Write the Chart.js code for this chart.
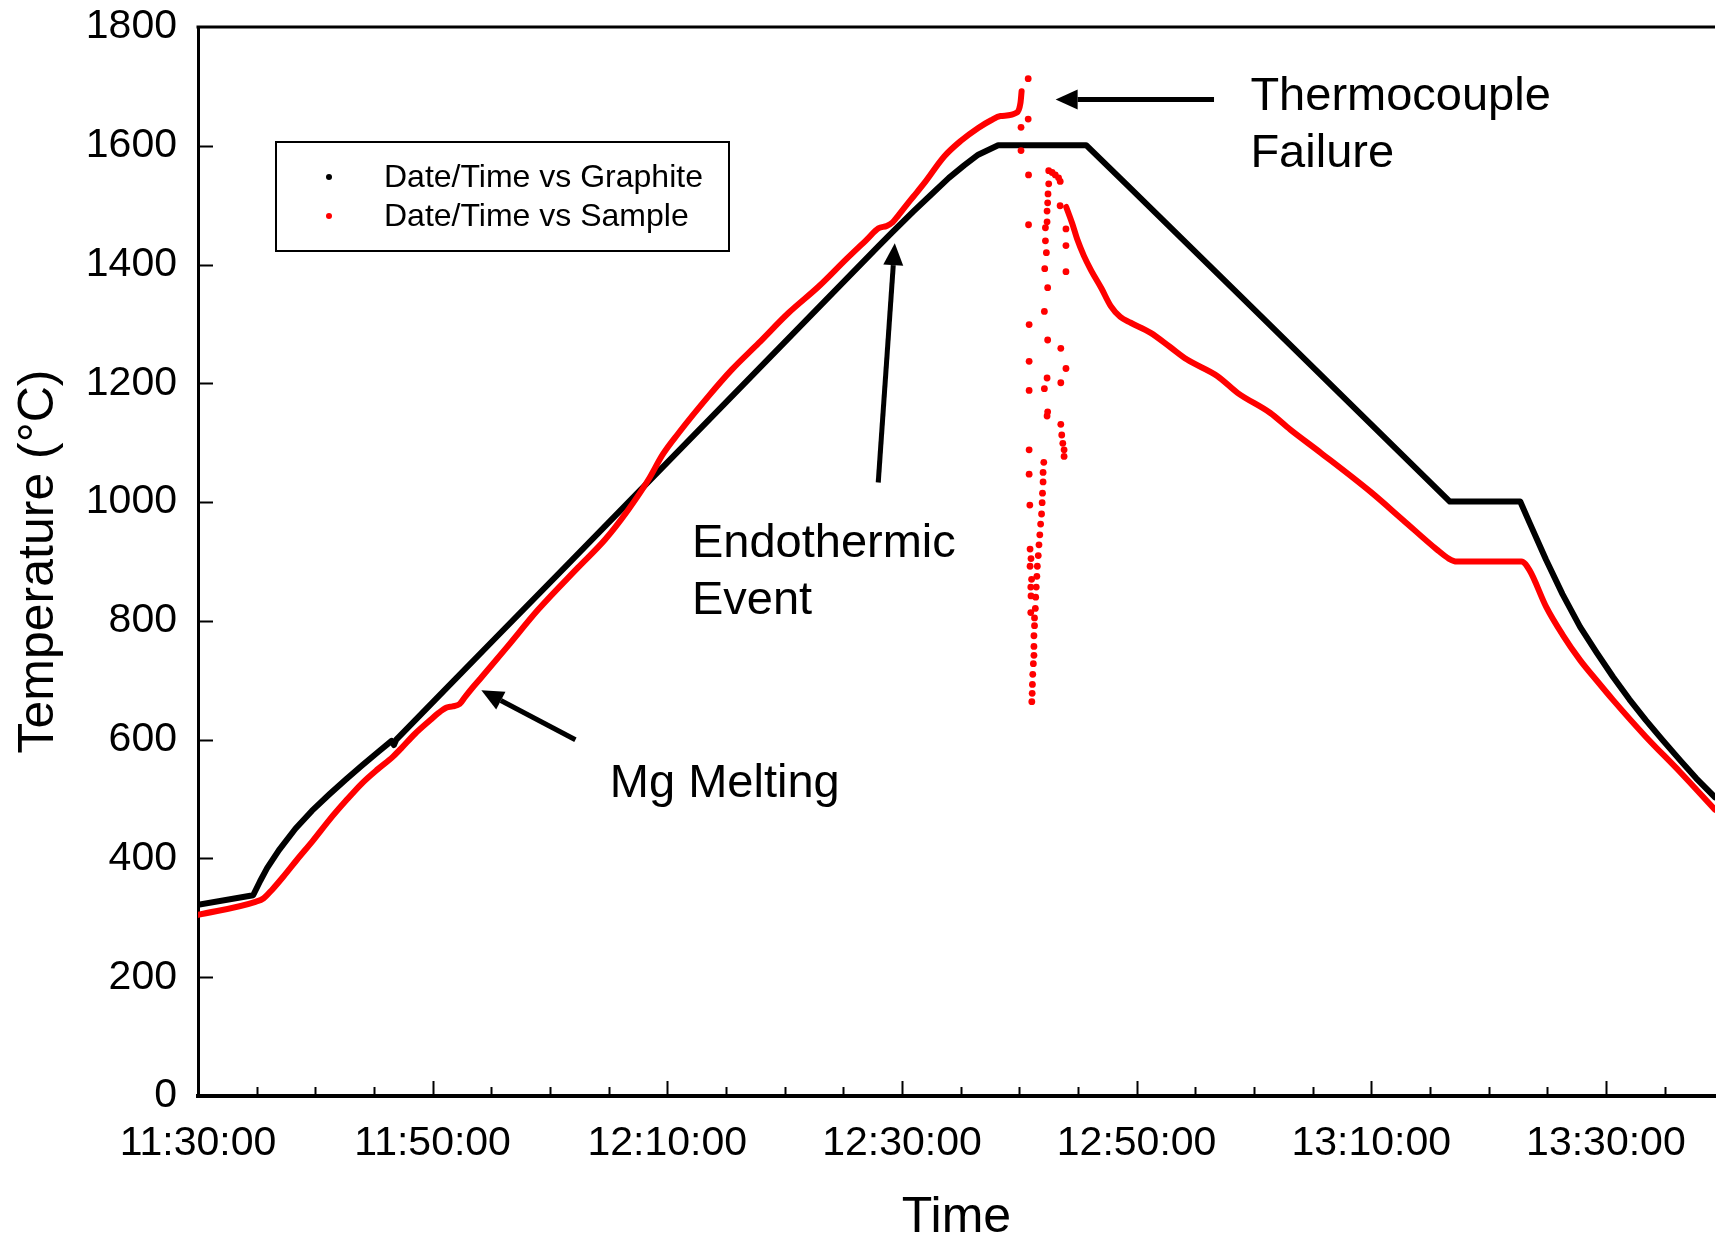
<!DOCTYPE html>
<html>
<head>
<meta charset="utf-8">
<script src="https://cdn.jsdelivr.net/npm/chart.js@4.4.0/dist/chart.umd.min.js"></script>
<style>
  html, body { margin: 0; padding: 0; background: #fff; }
  #wrap { width: 1719px; height: 1237px; }
</style>
</head>
<body>
<div id="wrap"><canvas id="myChart" width="1719" height="1237"></canvas></div>
<script>
// time is in minutes after 11:30:00
var xTickLabels = ['11:30:00', '11:50:00', '12:10:00', '12:30:00', '12:50:00', '13:10:00', '13:30:00'];
var yTicks = [0, 200, 400, 600, 800, 1000, 1200, 1400, 1600, 1800];

// Graphite
var graphiteMin = [0, 4.7, 5.3, 5.9, 6.9, 8.3, 9.7, 11.2, 12.6, 14.0, 15.4, 16.5, 16.7, 16.9, 21.1, 25.4, 31.6, 45, 58.0, 59.1,
  61, 62.5, 64, 65.3, 66.5, 68.2, 75.7, 79.4, 88.6, 106.7, 112.7, 113.5, 114.9, 116.3, 117.8, 119.2, 120.6, 122, 123.4, 124.8,
  126.3, 127.7, 129.3];
var graphiteTemp = [322, 338, 362, 384, 414, 450, 480, 508, 533, 557, 580, 598, 591, 600, 685, 772, 897, 1168, 1431, 1453,
  1490, 1518, 1546, 1567, 1585, 1601, 1601, 1530, 1352, 1001, 1001, 965, 903, 845, 790, 747, 706, 668, 633, 600,
  566, 535, 503];

// Sample, heating part (until the thermocouple fails)
var sampleMin = [0, 4.9, 5.6, 6.3, 7.3, 8.4, 9.8, 11.2, 12.6, 14.0, 15.3, 16.6, 17.3, 18.5, 19.8, 20.5, 21.2, 21.7, 22.3, 22.8,
  23.5, 24.2, 26.3, 29.0, 32.4, 34.7, 36.6, 38.4, 39.6, 40.95, 43.5, 45.5, 47.8, 50.3, 52.9, 55.3, 57.0, 58.0, 58.7, 59.2,
  59.7, 60.3, 61.0, 61.9, 63.6, 65.0, 66.5, 67.6, 68.4, 69.8, 70.1, 70.2];
var sampleTemp = [305, 327, 333, 347, 370, 397, 430, 465, 497, 527, 550, 571, 585, 610, 633, 645, 654, 656, 660, 673,
  690, 706, 755, 819, 890, 937, 985, 1038, 1080, 1116, 1178, 1223, 1268, 1318, 1363, 1410, 1442, 1461, 1465, 1471,
  1483, 1498, 1515, 1537, 1582, 1608, 1630, 1643, 1650, 1656, 1672, 1692];

// Sample, scattered readings while the thermocouple fails
var failMin = [70.76, 70.76, 70.15, 70.15, 70.79, 70.79, 70.84, 70.84, 70.84, 70.84, 70.84, 70.9, 70.92, 70.92, 70.98, 70.98, 71.0, 71.05, 71.0,
  72.09, 72.03, 72.03, 71.98, 71.95, 71.9, 71.82, 71.75, 71.68, 71.62, 71.54, 71.5, 71.45, 71.4, 71.37, 71.3, 71.3, 71.25, 71.25, 71.25, 71.2, 71.15, 71.12, 71.1, 71.07,
  72.51, 72.8, 73.07, 73.35, 73.49, 72.51, 72.45, 72.42, 72.37, 72.37, 72.23, 72.23, 72.31, 72.17, 72.42, 72.14, 72.42, 72.37, 72.14, 72.42, 72.37,
  73.48, 73.98, 73.98, 73.98, 73.54, 73.98, 73.54, 73.54, 73.62, 73.71, 73.82, 73.82];
var failTemp = [1713, 1645, 1631, 1592, 1551, 1467, 1299, 1237, 1188, 1088, 1047, 995, 921, 892, 857, 814, 905, 870, 842,
  1067, 1050, 1034, 1015, 999, 980, 963, 945, 928, 910, 892, 875, 857, 840, 821, 805, 792, 775, 757, 742, 728, 710, 693, 678, 664,
  1558, 1555, 1551, 1546, 1540, 1536, 1519, 1504, 1490, 1472, 1462, 1440, 1420, 1393, 1361, 1321, 1273, 1209, 1191, 1152, 1145,
  1499, 1460, 1432, 1388, 1259, 1225, 1201, 1131, 1113, 1099, 1088, 1077];

// Sample, cooling part
var coolMin = [74.0, 74.5, 74.95, 75.5, 76.1, 77.0, 77.8, 78.6, 79.5, 81.2, 82.8, 84.3, 86.9, 88.6, 91.4, 93.1, 95.7, 99.9, 102.7, 105.6,
  106.6, 107.3, 112.8, 113.5, 114.9, 116.3, 117.8, 119.2, 120.6, 123.4, 126.3, 129.3];
var coolTemp = [1497, 1470, 1442, 1415, 1391, 1360, 1330, 1312, 1302, 1285, 1262, 1240, 1212, 1184, 1150, 1122, 1083, 1018, 970, 920,
  905, 900, 900, 885, 824, 777, 734, 700, 667, 605, 546, 482];

var seriesNames = ['Date/Time vs Graphite', 'Date/Time vs Sample'];
var seriesColors = ['#000000', '#ff0000'];

// notes: first text line baseline at (x, y) in data units
var notes = [
  { lines: ['Thermocouple', 'Failure'], x: 89.7, y: 1661 },
  { lines: ['Endothermic', 'Event'], x: 42.1, y: 908 },
  { lines: ['Mg Melting'], x: 35.1, y: 504 }
];
var arrows = [
  { from: [86.6, 1678], to: [73.1, 1678] },
  { from: [57.98, 1033], to: [59.39, 1436] },
  { from: [32.17, 600], to: [24.15, 683] }
];

var FONT = '"Liberation Sans", Arial, sans-serif';

function pts(xs, ys) {
  return xs.map(function (v, i) { return { x: v, y: ys[i] }; });
}

// inward tick marks, top frame line, legend box, notes
const decoPlugin = {
  id: 'deco',
  afterDraw(chart) {
    const ctx = chart.ctx;
    const a = chart.chartArea;
    const xs = chart.scales.x, ys = chart.scales.y;
    ctx.save();
    ctx.strokeStyle = '#000';
    ctx.lineWidth = 3;
    ctx.beginPath();
    ctx.moveTo(a.left - 1.5, a.top);
    ctx.lineTo(a.right, a.top);
    ctx.stroke();

    ctx.lineWidth = 2;
    xs.ticks.forEach(function (t) {
      const px = Math.round(xs.getPixelForValue(t.value)) + 0.5;
      const len = Math.round(t.value) % 20 === 0 ? 15 : 9;
      ctx.beginPath();
      ctx.moveTo(px, a.bottom);
      ctx.lineTo(px, a.bottom - len);
      ctx.stroke();
    });
    ys.ticks.forEach(function (t) {
      if (t.value === 0 || t.value === 1800) return;
      const py = Math.round(ys.getPixelForValue(t.value)) + 0.5;
      ctx.beginPath();
      ctx.moveTo(a.left, py);
      ctx.lineTo(a.left + 15, py);
      ctx.stroke();
    });

    // legend
    const lx = a.left + 78, ly = a.top + 115, lw = 453, lh = 109;
    ctx.lineWidth = 2;
    ctx.strokeRect(lx, ly, lw, lh);
    ctx.font = '32px ' + FONT;
    ctx.textBaseline = 'middle';
    ctx.textAlign = 'left';
    seriesNames.forEach(function (nm, i) {
      const cy = ly + 35 + i * 39;
      ctx.fillStyle = seriesColors[i];
      ctx.beginPath();
      ctx.arc(lx + 53, cy, 3, 0, Math.PI * 2);
      ctx.fill();
      ctx.fillStyle = '#000';
      ctx.fillText(nm, lx + 108, cy + 1);
    });

    // notes
    ctx.font = '47px ' + FONT;
    ctx.textBaseline = 'alphabetic';
    ctx.fillStyle = '#000';
    notes.forEach(function (n) {
      const px = xs.getPixelForValue(n.x), py = ys.getPixelForValue(n.y);
      n.lines.forEach(function (s, i) { ctx.fillText(s, px, py + i * 57); });
    });

    // arrows
    arrows.forEach(function (ar) {
      const x0 = xs.getPixelForValue(ar.from[0]), y0 = ys.getPixelForValue(ar.from[1]);
      const x1 = xs.getPixelForValue(ar.to[0]), y1 = ys.getPixelForValue(ar.to[1]);
      const ang = Math.atan2(y1 - y0, x1 - x0);
      const hl = 22, hw = 10;
      const bx = x1 - hl * Math.cos(ang), by = y1 - hl * Math.sin(ang);
      ctx.lineWidth = 5;
      ctx.beginPath();
      ctx.moveTo(x0, y0);
      ctx.lineTo(bx, by);
      ctx.stroke();
      ctx.beginPath();
      ctx.moveTo(x1, y1);
      ctx.lineTo(bx + hw * Math.sin(ang), by - hw * Math.cos(ang));
      ctx.lineTo(bx - hw * Math.sin(ang), by + hw * Math.cos(ang));
      ctx.closePath();
      ctx.fill();
    });
    ctx.restore();
  }
};

Chart.defaults.font.family = FONT;
Chart.defaults.color = '#000';

const lineStyle = { showLine: true, pointRadius: 0, borderWidth: 6, fill: false,
  borderJoinStyle: 'round', borderCapStyle: 'round' };

const chartConfig = {
  type: 'scatter',
  data: {
    datasets: [
      Object.assign({ label: seriesNames[1], data: pts(sampleMin, sampleTemp), borderColor: seriesColors[1],
        cubicInterpolationMode: 'monotone' }, lineStyle),
      { label: seriesNames[1], data: pts(failMin, failTemp), showLine: false, pointRadius: 3.4,
        pointBorderWidth: 0, backgroundColor: seriesColors[1], borderColor: seriesColors[1] },
      Object.assign({ label: seriesNames[1], data: pts(coolMin, coolTemp), borderColor: seriesColors[1],
        cubicInterpolationMode: 'monotone' }, lineStyle),
      Object.assign({ label: seriesNames[0], data: pts(graphiteMin, graphiteTemp), borderColor: seriesColors[0] }, lineStyle)
    ]
  },
  options: {
    responsive: false,
    animation: false,
    events: [],
    layout: { padding: { top: 27, right: 0, bottom: 0, left: 0 } },
    plugins: {
      legend: { display: false },
      tooltip: { enabled: false }
    },
    scales: {
      x: {
        type: 'linear',
        min: 0,
        max: 129.3,
        afterFit: function (s) { s.height = 141; },
        grid: { display: false, drawTicks: false },
        border: { display: true, color: '#000', width: 4 },
        ticks: {
          stepSize: 5,
          includeBounds: false,
          autoSkip: false,
          maxRotation: 0,
          padding: 23,
          font: { size: 41 },
          callback: function (v) {
            const m = Math.round(v);
            return m % 20 === 0 ? xTickLabels[m / 20] : '';
          }
        },
        title: { display: true, text: 'Time', font: { size: 50, lineHeight: 0.88 }, padding: { top: 0, bottom: -3 } }
      },
      y: {
        min: 0,
        max: 1800,
        afterFit: function (s) { s.width = 198; s.paddingTop = 0; s.paddingBottom = 0; },
        afterBuildTicks: function (s) { s.ticks = yTicks.map(function (v) { return { value: v }; }); },
        grid: { display: false, drawTicks: false },
        border: { display: true, color: '#000', width: 3 },
        ticks: { padding: 21, font: { size: 41 }, callback: function (v) { return String(v); } },
        title: { display: true, text: 'Temperature (°C)', font: { size: 50 }, padding: { top: 9, bottom: 0 } }
      }
    }
  },
  plugins: [decoPlugin]
};

var myChart = new Chart(document.getElementById('myChart'), chartConfig);
</script>
</body>
</html>
